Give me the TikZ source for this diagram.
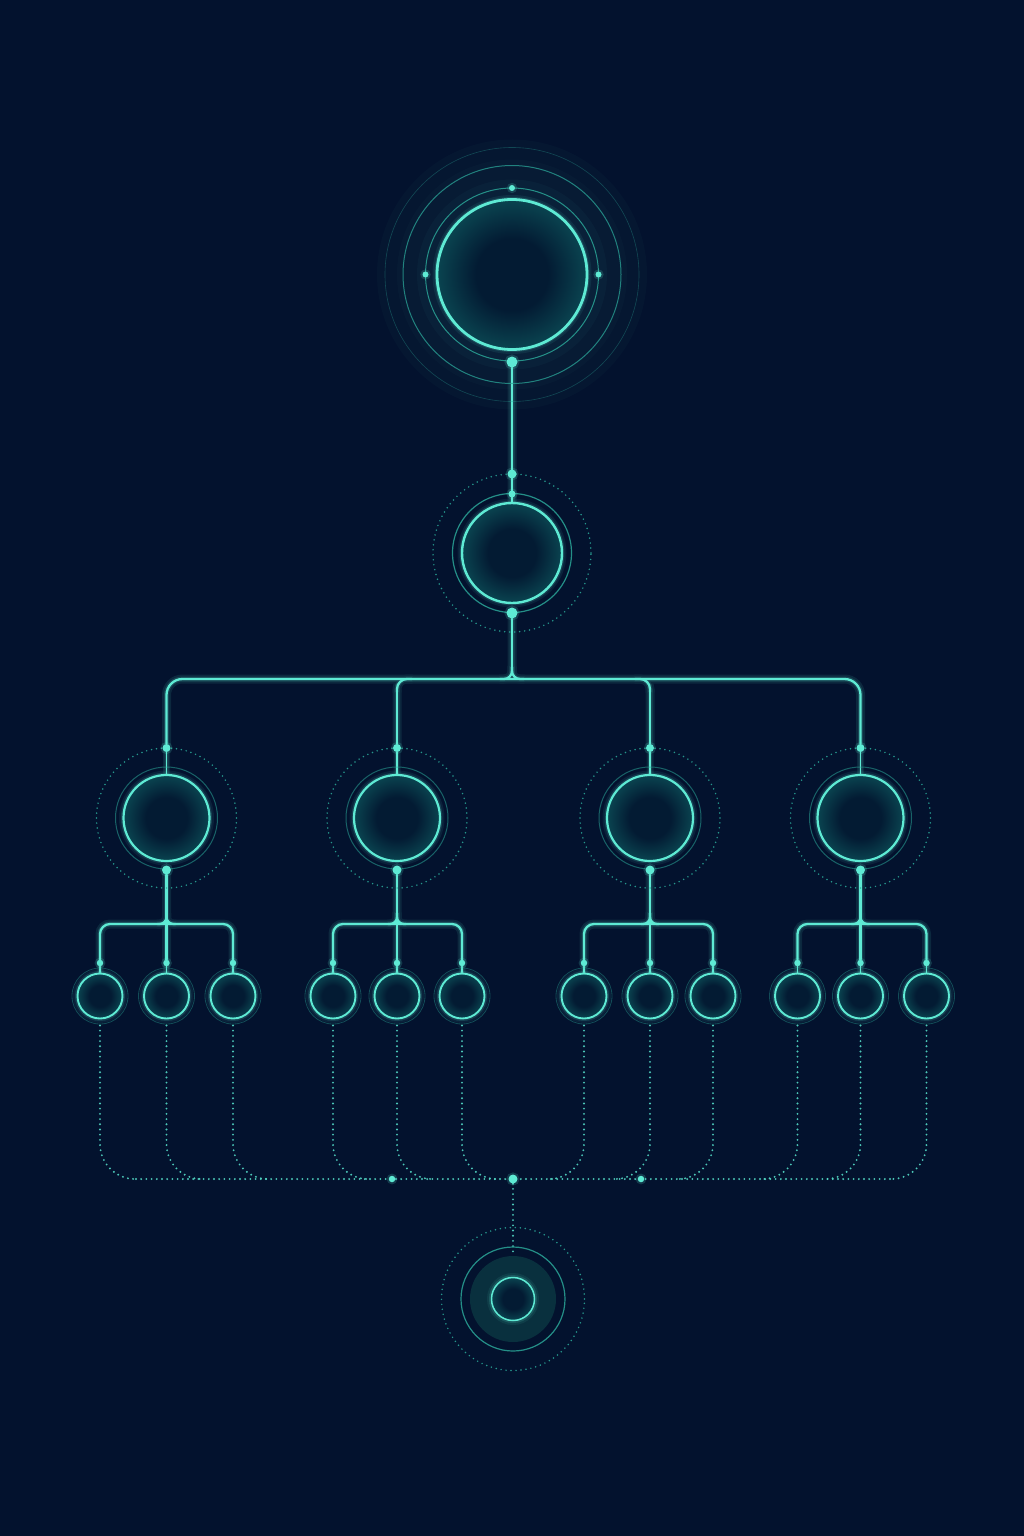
\documentclass[tikz,border=0pt]{standalone}
\usetikzlibrary{calc}
\definecolor{bgc}{HTML}{03122E}
\definecolor{neon}{HTML}{5EEAD4}
\definecolor{ringc}{HTML}{2AA597}
\definecolor{fillin}{HTML}{031B33}
\definecolor{fillout}{HTML}{0A4450}
\definecolor{discc}{HTML}{09303E}
\pgfdeclareradialshading{nodeshade}{\pgfpoint{0bp}{0bp}}{color(0bp)=(fillin); color(12bp)=(fillin); color(25bp)=(fillout); color(50bp)=(fillout)}
\pgfdeclarelayer{back}
\pgfdeclarelayer{lines}
\pgfsetlayers{back,lines,main}
\newcommand\myconnectors{%
\draw[nl] (Tb) -- (M.north);
\draw[nl] (Mb) -- (512,671);
\draw[nl, rounded corners=8pt] (512,667) |- (500,679);
\draw[nl, rounded corners=8pt] (512,667) |- (524,679);
\draw[nl, rounded corners=16pt] (Bt1) |- (512,679) -| (Bt4);
\draw[nl] (Bt2) -- (397,690);
\draw[nl, rounded corners=10pt] (397,692) |- (412,679);
\draw[nl] (Bt3) -- (650,690);
\draw[nl, rounded corners=10pt] (650,692) |- (635,679);
\foreach \i in {1,...,4} \draw[nlt] (Bt\i) -- (B\i.north);
\foreach \i/\a/\b/\c in {1/1/2/3,2/4/5/6,3/7/8/9,4/10/11/12} {
  \draw[nl, rounded corners=10pt] (Ft\a) |- (Bb\i |- sb) -| (Ft\c);
  \draw[nl] (Bb\i) -- (Ft\b);
  \draw[nl, rounded corners=7pt] ($(Bb\i |- sb)+(0,-11)$) |- ($(Bb\i |- sb)+(-9,0)$);
  \draw[nl, rounded corners=7pt] ($(Bb\i |- sb)+(0,-11)$) |- ($(Bb\i |- sb)+(9,0)$);
  \draw[nlt] (Ft\a) -- (F\a.north);
  \draw[nlt] (Ft\b) -- (F\b.north);
  \draw[nlt] (Ft\c) -- (F\c.north);
}}
\begin{document}
\begin{tikzpicture}[x=1pt,y=-1pt,
  bignode/.style={circle, inner sep=0pt, draw=neon, shading=nodeshade,
    preaction={draw=neon, line width=9pt, draw opacity=0.08},
    preaction={draw=neon, line width=5pt, draw opacity=0.16}},
  leafnode/.style={bignode, minimum size=45pt, line width=1.9pt},
  nd/.style={circle, inner sep=0pt, fill=neon, minimum size=#1,
    preaction={draw=neon, line width=4pt, draw opacity=0.18}},
  nd/.default=6pt,
  dl/.style={draw=neon!80!ringc, line width=2.1pt, line cap=round, dash pattern=on 0pt off 5.2pt, opacity=0.9},
  dring/.style={draw=ringc, line width=1.7pt, line cap=round, dash pattern=on 0pt off 5pt, opacity=0.9},
  thinring/.style={draw=ringc, line width=1pt}
]
\begin{pgfonlayer}{back}
\fill[bgc] (0,0) rectangle (1024,1536);
\foreach \r/\o in {135/0.025,115/0.025,95/0.03} \fill[neon, opacity=\o] (512,274.5) circle[radius=\r pt];
\end{pgfonlayer}
\useasboundingbox (0,0) rectangle (1024,1536);

% ---------- top node
\node[bignode, minimum size=150pt, line width=2.8pt] (T) at (512,274.5) {};
\draw[thinring, line width=0.6pt, opacity=0.35] (T.center) circle[radius=127pt];
\draw[thinring, opacity=0.75] (T.center) circle[radius=109pt];
\draw[thinring, opacity=0.85] (T.center) circle[radius=86.5pt];
\node[nd=6pt] (Tt) at (512,188) {};
\node[nd=6pt] (Tl) at (425.5,274.5) {};
\node[nd=6pt] (Tr) at (598.5,274.5) {};
\node[nd=11pt] (Tb) at (512,362) {};

% ---------- second node
\node[bignode, minimum size=100pt, line width=2.4pt] (M) at (512,553) {};
\draw[thinring, line width=1.2pt, opacity=0.85] (M.center) circle[radius=59.5pt];
\draw[dring] (M.center) circle[radius=79pt];
\node[nd=9pt] (Md1) at (512,474) {};
\node[nd=7pt] (Md2) at (512,494) {};
\node[nd=11pt] (Mb) at (512,613) {};

% ---------- level 2
\foreach \i/\x in {1/166.5,2/397,3/650,4/860.5} {
  \node[bignode, minimum size=86pt, line width=2.2pt] (B\i) at (\x,818) {};
  \draw[thinring, opacity=0.55] (B\i.center) circle[radius=51pt];
  \draw[dring] (B\i.center) circle[radius=70pt];
  \node[nd=8pt] (Bt\i) at (\x,748) {};
  \node[nd=9pt] (Bb\i) at (\x,870) {};
}

% ---------- leaves
\foreach \k/\x in {1/100,2/166.5,3/233,4/333,5/397,6/462,7/584,8/650,9/713,10/797.5,11/860.5,12/926.5} {
  \node[leafnode] (F\k) at (\x,996) {};
  \draw[thinring, line width=0.8pt, opacity=0.4] (F\k.center) circle[radius=28pt];
  \node[nd=6.5pt] (Ft\k) at (\x,963) {};
}

% ---------- bottom node
\coordinate (sb) at (0,924);
\coordinate (busL) at (136,1179);
\coordinate (busR) at (890.5,1179);
\node[nd=6.5pt] (bd1) at (392,1179) {};
\node[nd=9pt] (bd2) at (513,1179) {};
\node[nd=6.5pt] (bd3) at (641,1179) {};
\node[circle, inner sep=0pt, minimum size=86pt, fill=discc] (Zd) at (513,1299) {};
\draw[thinring, line width=1.2pt, opacity=0.85] (Zd.center) circle[radius=52pt];
\draw[dring] (Zd.center) circle[radius=71.5pt];
\node[leafnode, minimum size=43pt, line width=1.5pt] (Z) at (513,1299) {};

% ---------- connectors
\begin{pgfonlayer}{lines}
\begin{scope}[transparency group, opacity=0.10,
  nl/.style={draw=neon, line width=9pt, line cap=round},
  nlt/.style={draw=neon, line width=7pt, line cap=round}]
\myconnectors
\end{scope}
\begin{scope}[transparency group, opacity=0.16,
  nl/.style={draw=neon, line width=5pt, line cap=round},
  nlt/.style={draw=neon, line width=4pt, line cap=round}]
\myconnectors
\end{scope}
\begin{scope}[
  nl/.style={draw=neon, line width=2.3pt, line cap=round},
  nlt/.style={draw=neon, line width=1.4pt, line cap=round}]
\myconnectors
\end{scope}
\foreach \k in {1,...,6} \draw[dl, rounded corners=35pt] ($(F\k.south)+(0,6)$) |- ($(F\k.south |- busL)+(36,0)$);
\foreach \k in {7,...,12} \draw[dl, rounded corners=35pt] ($(F\k.south)+(0,6)$) |- ($(F\k.south |- busL)+(-36,0)$);
\draw[dl] (busL) -- (busR);
\draw[dl] (bd2) -- (Zd.north);
\end{pgfonlayer}
\end{tikzpicture}
\end{document}
